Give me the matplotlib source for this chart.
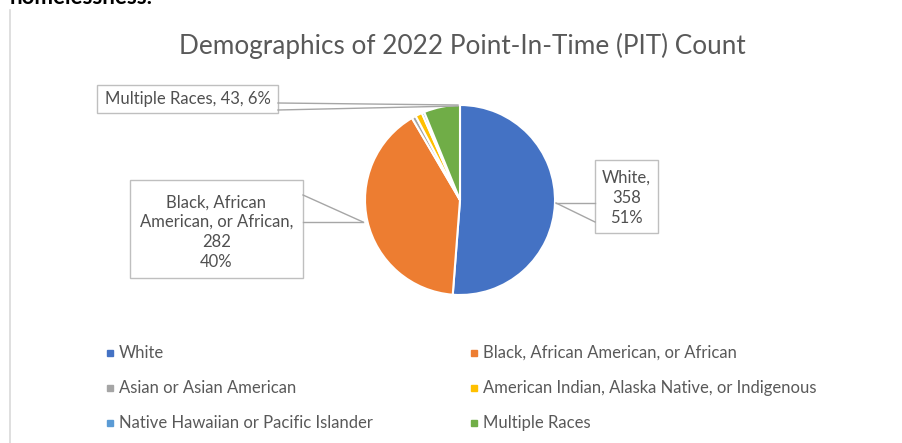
import matplotlib
matplotlib.use("Agg")
import matplotlib.pyplot as plt
from matplotlib.patches import Rectangle

categories = ["White", "Black, African American, or African", "Asian or Asian American",
              "American Indian, Alaska Native, or Indigenous",
              "Native Hawaiian or Pacific Islander", "Multiple Races"]
counts = [358, 282, 5, 8, 3, 43]
colors = ["#4472C4", "#ED7D31", "#A5A5A5", "#FFC000", "#5B9BD5", "#70AD47"]
title = "Demographics of 2022 Point-In-Time (PIT) Count"

W, H = 903, 443
FONT = "Lato"

fig = plt.figure(figsize=(W / 100, H / 100), dpi=100)
ax = fig.add_axes([0, 0, 1, 1])
ax.set_xlim(0, W)
ax.set_ylim(0, H)
ax.axis("off")


def Y(y):
    return H - y


# cropped heading text and chart border
ax.text(10, Y(4), "homelessness.", fontsize=16, fontweight="bold", family=FONT,
        color="black", va="baseline", ha="left")
ax.plot([10, 10], [Y(10), Y(443)], color="#d9d9d9", lw=1.2)

ax.text(462, Y(46), title, fontsize=18.8, family=FONT, color="#595959",
        ha="center", va="center")

total = sum(counts)
ax.pie(counts, colors=colors, startangle=90, counterclock=False,
       center=(460, Y(200)), radius=95,
       wedgeprops=dict(edgecolor="white", linewidth=1.5))
ax.set_aspect("equal")
ax.set_xlim(0, W)
ax.set_ylim(0, H)

pct = [round(c / total * 100) for c in counts]
lc = "#a6a6a6"
tc = "#505050"
fs = 12

# Multiple Races label
ax.add_patch(Rectangle((97, Y(113)), 181, 28, facecolor="white", edgecolor="#bfbfbf", lw=1))
ax.text(187.5, Y(99), f"{categories[5]}, {counts[5]}, {pct[5]}%", fontsize=fs, family=FONT,
        color=tc, ha="center", va="center")
ax.plot([278, 458], [Y(103), Y(105)], color=lc, lw=1)
ax.plot([278, 458], [Y(110), Y(106)], color=lc, lw=1)

# Black label
ax.add_patch(Rectangle((130, Y(278)), 173, 98, facecolor="white", edgecolor="#bfbfbf", lw=1))
ax.text(216.5, Y(232), f"Black, African\nAmerican, or African,\n{counts[1]}\n{pct[1]}%",
        fontsize=fs, family=FONT, color=tc, ha="center", va="center", linespacing=1.3)
ax.plot([303, 363], [Y(195), Y(222)], color=lc, lw=1)
ax.plot([303, 363], [Y(222), Y(222)], color=lc, lw=1)

# White label
ax.add_patch(Rectangle((595, Y(233)), 63, 73, facecolor="white", edgecolor="#bfbfbf", lw=1))
ax.text(626.5, Y(198), f"{categories[0]},\n{counts[0]}\n{pct[0]}%",
        fontsize=fs, family=FONT, color=tc, ha="center", va="center", linespacing=1.3)
ax.plot([556, 595], [Y(203), Y(203)], color=lc, lw=1)
ax.plot([556, 595], [Y(203), Y(222)], color=lc, lw=1)

# legend
col_x = [110, 474]
row_y = [353, 388, 423]
for i, (cat, col) in enumerate(zip(categories, colors)):
    r, c = divmod(i, 2)
    ax.plot([col_x[c]], [Y(row_y[r])], marker="s", markersize=4.5, color=col, mec=col)
    ax.text(col_x[c] + 9, Y(row_y[r]), cat, fontsize=12, family=FONT, color="#595959",
            ha="left", va="center")

fig.savefig("out.png", dpi=100, facecolor="white")
